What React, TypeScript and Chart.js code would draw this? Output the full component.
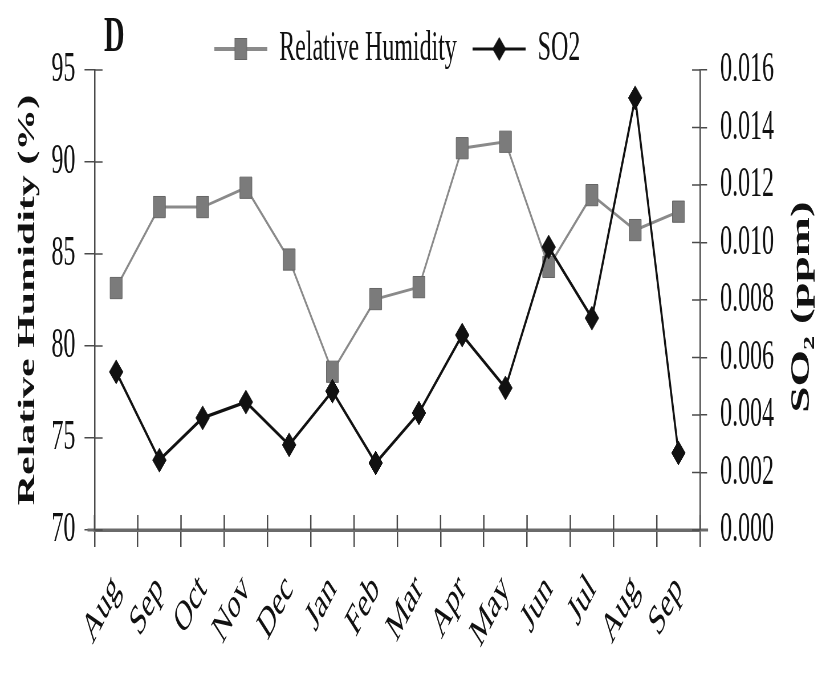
import React, { useEffect, useRef } from 'react';
import { Chart, registerables } from 'chart.js';

Chart.register(...registerables);

// ---- data ----
const months = ['Aug', 'Sep', 'Oct', 'Nov', 'Dec', 'Jan', 'Feb', 'Mar', 'Apr', 'May', 'Jun', 'Jul', 'Aug', 'Sep'];
const relativeHumidity = [83.15, 87.55, 87.55, 88.6, 84.7, 78.6, 82.55, 83.2, 90.75, 91.1, 84.3, 88.2, 86.3, 87.3];
const so2 = [0.0055, 0.00243, 0.0039, 0.00445, 0.00296, 0.00483, 0.00233, 0.00407, 0.00678, 0.00494, 0.00984, 0.00737, 0.01503, 0.00268];
const humidityRange = [70, 95];
const humidityStep = 5;
const so2Range = [0, 0.016];
const so2Step = 0.002;
const seriesNames = ['Relative Humidity', 'SO2'];
const leftTitle = 'Relative Humidity (%)';
const rightTitle = 'SO\u2082 (ppm)';
const panelLetter = 'D';

// ---- layout (the reference is horizontally condensed) ----
const SX = 0.57;
const PAGE_W = 826;
const PAGE_H = 687;
const CW = Math.round(PAGE_W / SX);
const CH = PAGE_H;
const cx = (px: number) => px / SX;

const FONT = "'Liberation Serif', 'Times New Roman', serif";
const AXIS = '#4a4a4a';
const RH_LINE = '#8a8a8a';
const RH_FILL = '#7b7b7b';
const SO2_COL = '#111111';

function makeIcon(kind: 'rh' | 'so2') {
  const c = document.createElement('canvas');
  c.width = 93;
  c.height = 32;
  const g = c.getContext('2d')!;
  g.lineWidth = kind === 'rh' ? 4 : 3;
  g.strokeStyle = kind === 'rh' ? RH_LINE : SO2_COL;
  g.beginPath();
  g.moveTo(0, 16);
  g.lineTo(93, 16);
  g.stroke();
  if (kind === 'rh') {
    g.fillStyle = RH_FILL;
    g.fillRect(46.5 - 10.5, 16 - 10.5, 21, 21);
    g.strokeStyle = '#666';
    g.lineWidth = 1;
    g.strokeRect(46.5 - 10.5, 16 - 10.5, 21, 21);
  } else {
    g.fillStyle = SO2_COL;
    g.beginPath();
    g.moveTo(46.5 - 12, 16);
    g.lineTo(46.5, 16 - 12);
    g.lineTo(46.5 + 12, 16);
    g.lineTo(46.5, 16 + 12);
    g.closePath();
    g.fill();
  }
  return c;
}

const decor = {
  id: 'decor',
  beforeLayout(chart: any) {
    const lg = chart.legend;
    if (lg && !lg.__patched) {
      const orig = lg.fit.bind(lg);
      lg.fit = function () {
        orig();
        this.height = 70;
      };
      lg.__patched = true;
    }
  },
  afterDraw(chart: any) {
    const { ctx } = chart;
    const y = chart.scales.y;
    const y1 = chart.scales.y1;
    const x = chart.scales.x;
    ctx.save();
    // baseline slightly overshooting both axes, as in the reference
    ctx.strokeStyle = '#6a6a6a';
    ctx.lineWidth = 3;
    ctx.beginPath();
    ctx.moveTo(x.left - cx(7), x.top);
    ctx.lineTo(x.right + cx(8), x.top);
    ctx.stroke();
    ctx.strokeStyle = AXIS;
    // inward tick halves (ticks cross the axes in the reference)
    ctx.lineWidth = 1.5;
    y.ticks.forEach((_t: any, i: number) => {
      const py = y.getPixelForTick(i);
      ctx.beginPath();
      ctx.moveTo(y.right, py);
      ctx.lineTo(y.right + cx(8), py);
      ctx.stroke();
    });
    y1.ticks.forEach((_t: any, i: number) => {
      const py = y1.getPixelForTick(i);
      ctx.beginPath();
      ctx.moveTo(y1.left - cx(8), py);
      ctx.lineTo(y1.left, py);
      ctx.stroke();
    });
    ctx.lineWidth = 2.5;
    const n = months.length;
    for (let i = 0; i <= n; i++) {
      const px = x.left + ((x.right - x.left) * i) / n;
      ctx.beginPath();
      ctx.moveTo(px, x.top - 15);
      ctx.lineTo(px, x.top);
      ctx.stroke();
    }
    // right axis title, reading bottom to top
    ctx.fillStyle = '#111';
    ctx.font = `bold 47px ${FONT}`;
    ctx.textAlign = 'center';
    ctx.textBaseline = 'middle';
    ctx.translate(cx(802), 307);
    ctx.rotate(-Math.PI / 2);
    ctx.fillText(rightTitle, 0, 0);
    ctx.restore();
    // panel letter
    ctx.save();
    ctx.fillStyle = '#111';
    ctx.font = `bold 50px ${FONT}`;
    ctx.textAlign = 'left';
    ctx.textBaseline = 'alphabetic';
    ctx.fillText(panelLetter, cx(104), 51);
    ctx.restore();
  },
};

export default function App() {
  const ref = useRef<HTMLCanvasElement | null>(null);

  useEffect(() => {
    const canvas = ref.current;
    if (!canvas) return;
    const icons = [makeIcon('rh'), makeIcon('so2')];

    const chart = new Chart(canvas, {
      type: 'line',
      data: {
        labels: months,
        datasets: [
          {
            label: seriesNames[0],
            data: relativeHumidity,
            yAxisID: 'y',
            borderColor: RH_LINE,
            backgroundColor: RH_FILL,
            borderWidth: 3,
            pointStyle: 'rect',
            pointRadius: 15,
            pointBorderColor: '#666',
            pointBorderWidth: 1,
            pointBackgroundColor: RH_FILL,
            tension: 0,
            order: 1,
          },
          {
            label: seriesNames[1],
            data: so2,
            yAxisID: 'y1',
            borderColor: SO2_COL,
            backgroundColor: SO2_COL,
            borderWidth: 3.5,
            pointStyle: 'rectRot',
            pointRadius: 12,
            pointBorderColor: SO2_COL,
            pointBorderWidth: 1,
            pointBackgroundColor: SO2_COL,
            tension: 0,
            order: 0,
          },
        ],
      },
      options: {
        responsive: false,
        animation: false,
        devicePixelRatio: 1,
        layout: { padding: 0 },
        plugins: {
          tooltip: { enabled: false },
          legend: {
            display: true,
            position: 'top',
            fullSize: false,
            labels: {
              usePointStyle: true,
              pointStyleWidth: 93,
              padding: 28,
              color: '#111',
              font: { family: FONT, size: 42 },
              generateLabels: (ch: any) => {
                const base = Chart.defaults.plugins.legend.labels.generateLabels(ch);
                return base
                  .sort((a: any, b: any) => a.datasetIndex - b.datasetIndex)
                  .map((it: any) => ({ ...it, pointStyle: icons[it.datasetIndex] }));
              },
            },
          },
        },
        scales: {
          x: {
            type: 'category',
            offset: true,
            afterFit: (s: any) => {
              s.height = CH - 530;
            },
            border: { display: true, color: '#6a6a6a', width: 3 },
            grid: {
              offset: true,
              drawOnChartArea: false,
              drawTicks: true,
              tickLength: 17,
              tickColor: AXIS,
              tickWidth: 2.5,
              lineWidth: 2.5,
            },
            ticks: {
              color: '#111',
              font: { family: FONT, size: 43 },
              minRotation: 48,
              maxRotation: 48,
              autoSkip: false,
              padding: 18,
            },
          },
          y: {
            type: 'linear',
            position: 'left',
            min: humidityRange[0],
            max: humidityRange[1],
            afterFit: (s: any) => {
              s.width = cx(94.5);
            },
            border: { display: true, color: AXIS, width: 2.5 },
            grid: {
              drawOnChartArea: false,
              drawTicks: true,
              tickLength: cx(10),
              tickColor: AXIS,
              lineWidth: 1.5,
            },
            ticks: {
              stepSize: humidityStep,
              color: '#111',
              font: { family: FONT, size: 42 },
              padding: 16,
            },
            title: {
              display: true,
              text: leftTitle,
              color: '#111',
              font: { family: FONT, size: 42, weight: 'bold' },
              padding: { top: 24, bottom: 0 },
            },
          },
          y1: {
            type: 'linear',
            position: 'right',
            min: so2Range[0],
            max: so2Range[1],
            afterFit: (s: any) => {
              s.width = CW - cx(700);
            },
            border: { display: true, color: AXIS, width: 2.5 },
            grid: {
              drawOnChartArea: false,
              drawTicks: true,
              tickLength: cx(7),
              tickColor: AXIS,
              lineWidth: 1.5,
            },
            ticks: {
              stepSize: so2Step,
              color: '#111',
              font: { family: FONT, size: 42 },
              padding: 23,
              callback: (v: any) => Number(v).toFixed(3),
            },
          },
        },
      },
      plugins: [decor],
    } as any);

    return () => {
      chart.destroy();
    };
  }, []);

  return (
    <div
      style={{
        position: 'fixed',
        left: 0,
        top: 0,
        width: PAGE_W,
        height: PAGE_H,
        overflow: 'hidden',
        background: '#fff',
      }}
    >
      <canvas
        ref={ref}
        width={CW}
        height={CH}
        style={{ width: PAGE_W, height: PAGE_H, display: 'block' }}
      />
    </div>
  );
}
